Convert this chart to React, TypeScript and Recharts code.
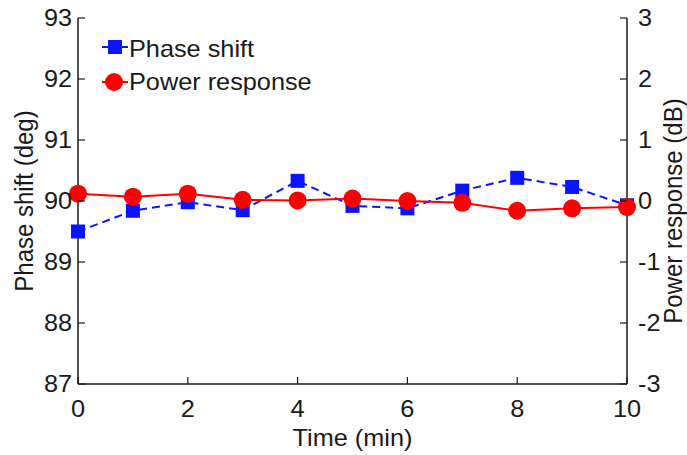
import { ComposedChart, Line, XAxis, YAxis } from 'recharts';

const timeMin = [0, 1, 2, 3, 4, 5, 6, 7, 8, 9, 10];
const phaseShift = [89.5, 89.84, 89.98, 89.85, 90.33, 89.92, 89.88, 90.17, 90.38, 90.23, 89.93];
const powerResponse = [0.12, 0.07, 0.12, 0.02, 0.01, 0.04, 0.0, -0.03, -0.16, -0.12, -0.1];
const xTicks = [0, 2, 4, 6, 8, 10];
const leftTicks = [87, 88, 89, 90, 91, 92, 93];
const rightTicks = [-3, -2, -1, 0, 1, 2, 3];

const rows = timeMin.map((t, i) => ({ t, phase: phaseShift[i], power: powerResponse[i] }));

const FONT = '"Liberation Sans", Arial, sans-serif';
const FS = 23;
const SX = 1.1; // the source figure is stretched a little horizontally
const INK = '#1a1a1a';
const BLUE = '#0a14ff';
const RED = '#ff0000';

const Txt = ({ x, y, anchor, size = FS, rotate = 0, children }: any) => (
  <g transform={`translate(${x},${y}) scale(${SX},1) rotate(${rotate})`}>
    <text x={0} y={0} textAnchor={anchor} fontSize={size} fontFamily={FONT} fill={INK}>
      {children}
    </text>
  </g>
);

const BottomTick = ({ x, y, payload }: any) => (
  <g>
    <line x1={x} x2={x} y1={y} y2={y - 7} stroke={INK} strokeWidth={1.2} />
    <Txt x={x} y={y + 33} anchor="middle">{payload.value}</Txt>
  </g>
);

const TopTick = ({ x, y }: any) => <line x1={x} x2={x} y1={y} y2={y + 7} stroke={INK} strokeWidth={1.2} />;

const LeftTick = ({ x, y, payload }: any) => (
  <g>
    <line x1={x} x2={x + 7} y1={y} y2={y} stroke={INK} strokeWidth={1.2} />
    <Txt x={x - 6} y={y + 8} anchor="end">{payload.value}</Txt>
  </g>
);

const RightTick = ({ x, y, payload }: any) => (
  <g>
    <line x1={x} x2={x - 7} y1={y} y2={y} stroke={INK} strokeWidth={1.2} />
    <Txt x={x + 11} y={y + 8} anchor="start">{payload.value}</Txt>
  </g>
);

const XTitle = ({ viewBox }: any) => (
  <Txt x={viewBox.x + viewBox.width / 2} y={viewBox.y + 62} anchor="middle">Time (min)</Txt>
);

const LeftTitle = ({ viewBox }: any) => (
  <Txt x={33} y={viewBox.y + viewBox.height / 2} anchor="middle" size={24} rotate={-90}>Phase shift (deg)</Txt>
);

const RightTitle = ({ viewBox }: any) => (
  <Txt x={viewBox.x + 55} y={viewBox.y + viewBox.height / 2 + 10} anchor="middle" size={24} rotate={-90}>
    Power response (dB)
  </Txt>
);

const Square = (props: any) => {
  const { cx, cy, index } = props;
  return <rect key={'sq' + index} x={cx - 7} y={cy - 7} width={14} height={14} fill={BLUE} />;
};

const Circle = (props: any) => {
  const { cx, cy, index } = props;
  return <circle key={'c' + index} cx={cx} cy={cy} r={9} fill={RED} />;
};

const LegendBox = () => (
  <svg width={240} height={70} style={{ position: 'absolute', left: 98, top: 30, overflow: 'visible' }}>
    <line x1={4} x2={30} y1={17} y2={17} stroke={BLUE} strokeWidth={2} />
    <rect x={10} y={10} width={14} height={14} fill={BLUE} />
    <Txt x={31} y={27}>Phase shift</Txt>
    <line x1={4} x2={30} y1={52} y2={52} stroke={RED} strokeWidth={2} />
    <circle cx={16} cy={52} r={9} fill={RED} />
    <Txt x={31} y={60}>Power response</Txt>
  </svg>
);

export default function App() {
  return (
    <div style={{ position: 'absolute', left: 0, top: 0, width: 687, height: 455, background: '#fff' }}>
      <ComposedChart width={687} height={455} data={rows} margin={{ top: 18, right: 0, bottom: 11, left: 0 }}>
        <XAxis
          xAxisId="b"
          dataKey="t"
          type="number"
          domain={[0, 10]}
          ticks={xTicks}
          tickSize={0}
          tickMargin={0}
          tickLine={false}
          tick={<BottomTick />}
          axisLine={{ stroke: INK, strokeWidth: 1.5 }}
          height={60}
          label={<XTitle />}
        />
        <XAxis
          xAxisId="top"
          dataKey="t"
          type="number"
          orientation="top"
          domain={[0, 10]}
          ticks={xTicks}
          tickSize={0}
          tickMargin={0}
          tickLine={false}
          tick={<TopTick />}
          axisLine={{ stroke: INK, strokeWidth: 1.5 }}
          height={0}
        />
        <YAxis
          yAxisId="left"
          domain={[87, 93]}
          ticks={leftTicks}
          tickSize={0}
          tickMargin={0}
          tickLine={false}
          tick={<LeftTick />}
          axisLine={{ stroke: INK, strokeWidth: 1.5 }}
          width={78}
          label={<LeftTitle />}
        />
        <YAxis
          yAxisId="right"
          orientation="right"
          domain={[-3, 3]}
          ticks={rightTicks}
          tickSize={0}
          tickMargin={0}
          tickLine={false}
          tick={<RightTick />}
          axisLine={{ stroke: INK, strokeWidth: 1.5 }}
          width={60}
          label={<RightTitle />}
        />
        <Line
          xAxisId="b"
          yAxisId="left"
          dataKey="phase"
          name="Phase shift"
          stroke={BLUE}
          strokeWidth={2}
          strokeDasharray="8 5"
          dot={Square}
          isAnimationActive={false}
        />
        <Line
          xAxisId="b"
          yAxisId="right"
          dataKey="power"
          name="Power response"
          stroke={RED}
          strokeWidth={2}
          dot={Circle}
          isAnimationActive={false}
        />
      </ComposedChart>
      <LegendBox />
    </div>
  );
}
